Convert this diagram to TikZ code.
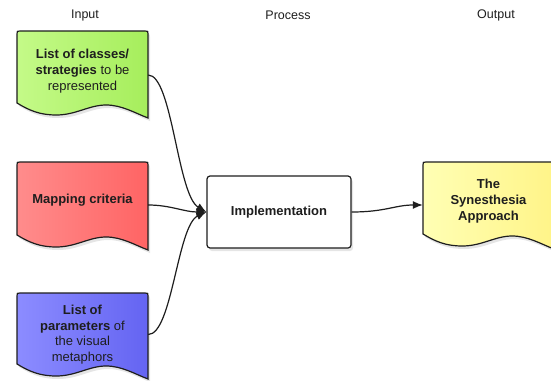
\documentclass[tikz,border=0pt]{standalone}
\usepackage{fontspec}
\setmainfont{Liberation Sans}
\usetikzlibrary{arrows.meta,shadows}
\definecolor{gLight}{HTML}{C4FA88}
\definecolor{gDark}{HTML}{A6EE5C}
\definecolor{rLight}{HTML}{FF8C8C}
\definecolor{rDark}{HTML}{FF6464}
\definecolor{bLight}{HTML}{8C8CFF}
\definecolor{bDark}{HTML}{6464F2}
\definecolor{yLight}{HTML}{FFFFB4}
\definecolor{yDark}{HTML}{FFF488}
\definecolor{ink}{HTML}{1E1E1E}
\newcommand\docshape[5]{%
 \pgfmathsetmacro\dw{#3-#1}%
 \path[docbox,#5] (#1,#4) -- (#1,#2+3) .. controls (#1,#2) .. (#1+3,#2) -- (#3-3,#2) .. controls (#3,#2) .. (#3,#2+3) -- (#3,#4+15)
 .. controls ({#1+0.9*\dw},{#4+10}) and ({#1+0.8*\dw},{#4+2}) .. ({#1+0.68*\dw},{#4+2})
 .. controls ({#1+0.55*\dw},{#4+2}) and ({#1+0.45*\dw},{#4+12}) .. ({#1+0.3*\dw},{#4+12})
 .. controls ({#1+0.18*\dw},{#4+12}) and ({#1+0.1*\dw},{#4+8}) .. (#1,#4) -- cycle;}
\tikzset{
 docbox/.style={draw=ink, line width=1.2pt, drop shadow={opacity=0.2, shadow xshift=2pt, shadow yshift=-3pt}},
 doctext/.style={font=\fontsize{13}{15.7}\selectfont, align=center, text=ink, minimum width=131pt, inner sep=0pt},
 coltitle/.style={font=\fontsize{12.5}{15}\selectfont, text=ink},
 implbox/.style={draw=ink, line width=1.2pt, fill=white, rounded corners=3pt, minimum width=144pt, minimum height=72pt,
   font=\fontsize{13}{15}\selectfont, text=ink, drop shadow={opacity=0.2, shadow xshift=2pt, shadow yshift=-3pt}},
 conn/.style={draw=ink, line width=1.2pt, -{Latex[length=10pt,width=8pt]}}
}
\begin{document}
\begin{tikzpicture}[x=1pt, y=-1pt]
\useasboundingbox (0,0) rectangle (551,380);
\fill[white] (0,0) rectangle (551,380);
\clip (0,0) rectangle (551,380);
% column titles
\node[coltitle] (tin) at (85,15) {Input};
\node[coltitle] (tproc) at (288,15) {Process};
\node[coltitle] (tout) at (496,15) {Output};
% documents
\docshape{17}{31}{148}{103}{left color=gLight, right color=gDark}
\docshape{17}{162}{148}{235}{left color=rLight, right color=rDark}
\docshape{17}{293}{148}{364}{left color=bLight, right color=bDark}
\docshape{423}{162}{554}{234}{left color=yLight, right color=yDark}
\node[doctext] (gtxt) at (82.5,71) {\textbf{List of classes/}\\\textbf{strategies} to be\\represented};
\node[doctext] (rtxt) at (82.5,200) {\textbf{Mapping criteria}};
\node[doctext] (btxt) at (82.5,334.5) {\textbf{List of}\\\textbf{parameters} of\\the visual\\metaphors};
\node[doctext] (ytxt) at (488.5,201) {\textbf{The}\\\textbf{Synesthesia}\\\textbf{Approach}};
% process
\node[implbox] (impl) at (279,212) {\textbf{Implementation}};
% connectors
\draw[conn] ([yshift=-4pt]gtxt.east) .. controls +(24,0) and +(-29,-17) .. (impl.west);
\draw[conn] ([yshift=-5pt]rtxt.east) .. controls +(22,0) and +(-22,0) .. (impl.west);
\draw[conn] (btxt.east) .. controls +(24,0) and +(-29,13) .. (impl.west);
\draw[conn] (impl.east) .. controls +(34,0) and +(-28,0) .. ([yshift=-4pt]ytxt.west);
\end{tikzpicture}
\end{document}
